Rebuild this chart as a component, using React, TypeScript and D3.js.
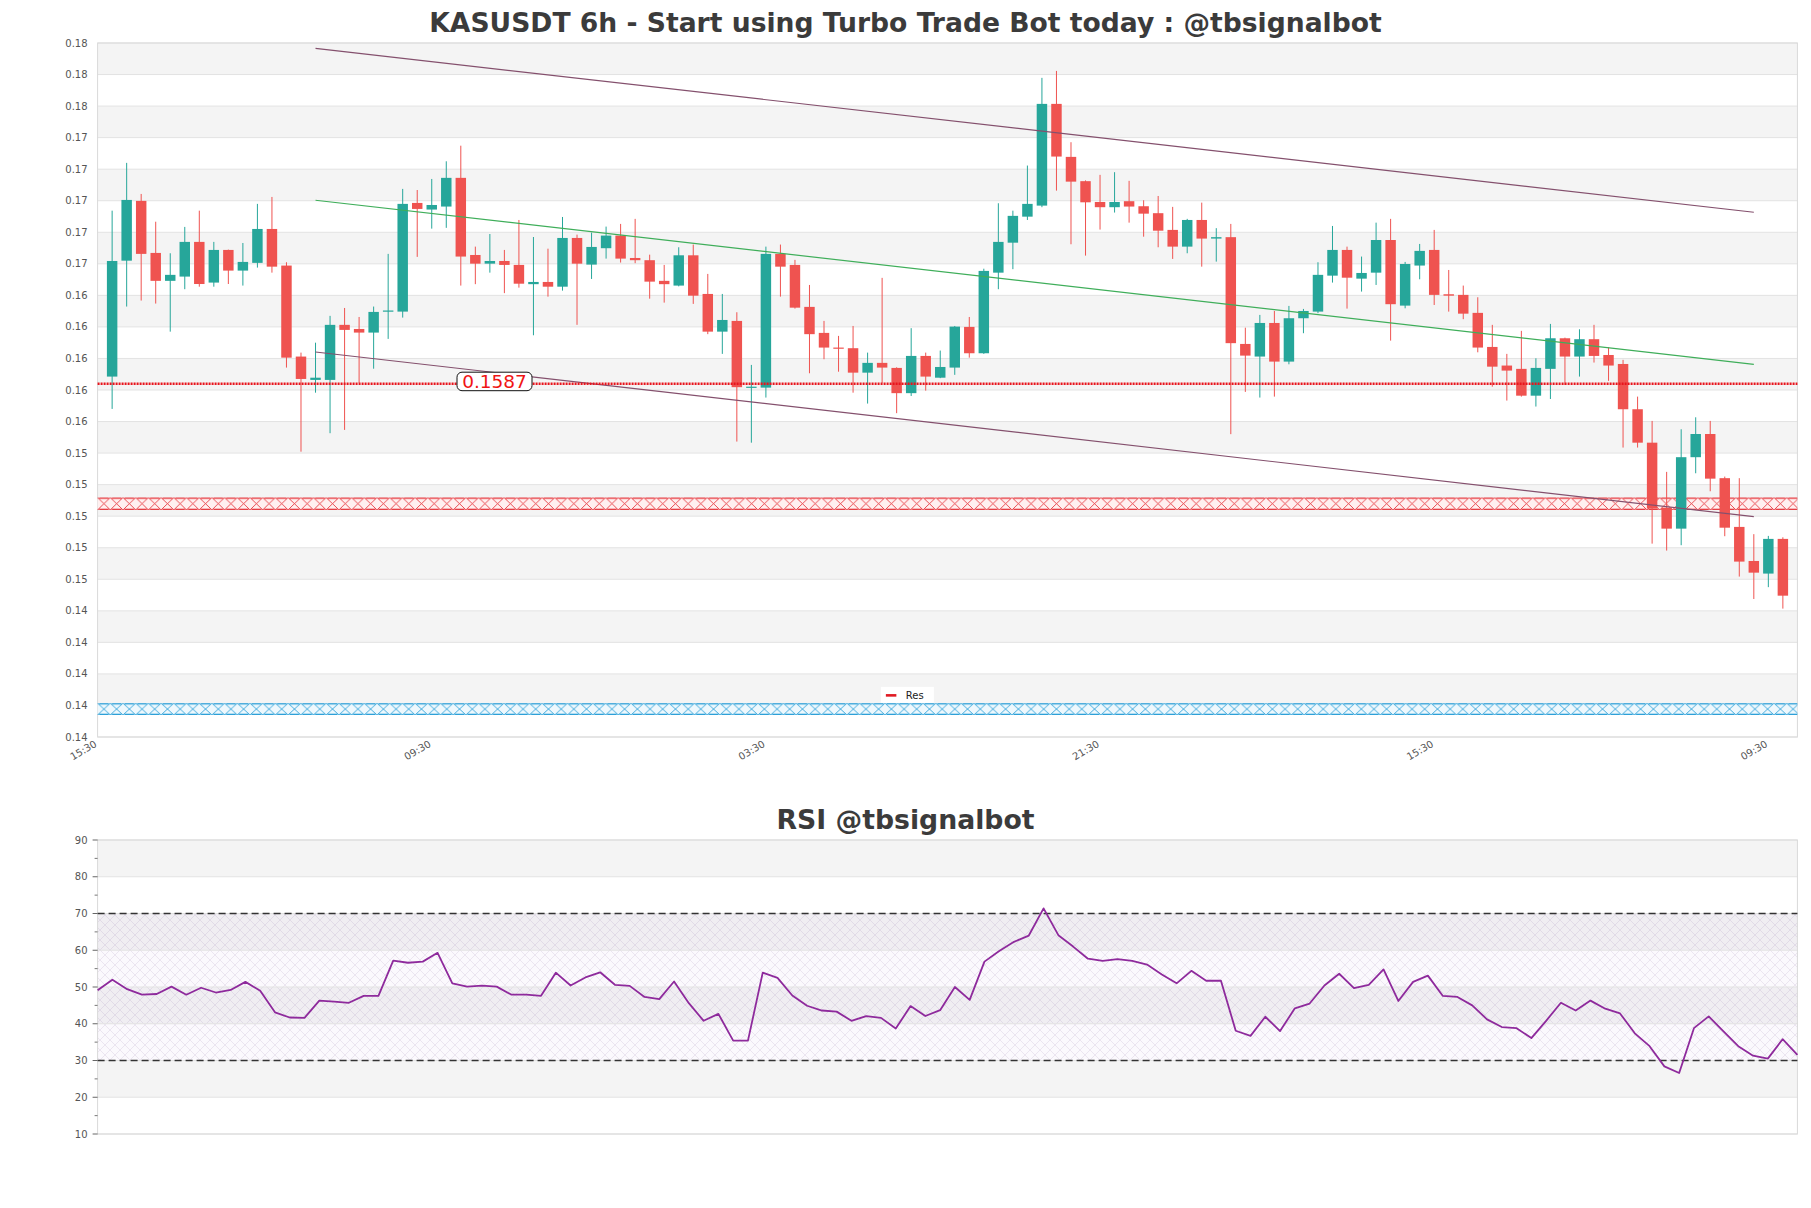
import React from 'react';
import * as d3 from 'd3';

const TITLE = 'KASUSDT 6h - Start using Turbo Trade Bot today : @tbsignalbot';
const RSI_TITLE = 'RSI @tbsignalbot';

const opens = [
  0.15915, 0.16650, 0.17029, 0.16699, 0.16522, 0.16549, 0.16769, 0.16511, 0.16718, 0.16587,
  0.16636, 0.16851, 0.16619, 0.16042, 0.15894, 0.15894, 0.16243, 0.16217, 0.16194, 0.16328,
  0.16327, 0.17016, 0.16974, 0.16993, 0.17175, 0.16686, 0.16631, 0.16648, 0.16623, 0.16501,
  0.16515, 0.16485, 0.16794, 0.16625, 0.16729, 0.16809, 0.16667, 0.16653, 0.16522, 0.16492,
  0.16684, 0.16439, 0.16200, 0.16268, 0.15845, 0.15845, 0.16693, 0.16623, 0.16357, 0.16192,
  0.16099, 0.16095, 0.15940, 0.16002, 0.15970, 0.15810, 0.16046, 0.15908, 0.15972, 0.16230,
  0.16063, 0.16574, 0.16764, 0.16929, 0.16999, 0.17644, 0.17308, 0.17154, 0.17022, 0.16989,
  0.17027, 0.16995, 0.16951, 0.16845, 0.16739, 0.16908, 0.16790, 0.16799, 0.16122, 0.16042,
  0.16255, 0.16010, 0.16285, 0.16327, 0.16555, 0.16718, 0.16536, 0.16574, 0.16781, 0.16365,
  0.16619, 0.16718, 0.16437, 0.16433, 0.16319, 0.16103, 0.15985, 0.15964, 0.15794, 0.15964,
  0.16158, 0.16042, 0.16152, 0.16052, 0.15995, 0.15708, 0.15496, 0.15084, 0.14951, 0.15404,
  0.15551, 0.15271, 0.14962, 0.14746, 0.14666, 0.14886,
];
const highs = [
  0.16967, 0.17270, 0.17073, 0.16897, 0.16697, 0.16864, 0.16967, 0.16769, 0.16720, 0.16762,
  0.17010, 0.17054, 0.16640, 0.16067, 0.16130, 0.16300, 0.16350, 0.16293, 0.16359, 0.16693,
  0.17105, 0.17098, 0.17168, 0.17280, 0.17379, 0.16739, 0.16819, 0.16718, 0.16908, 0.16800,
  0.16726, 0.16927, 0.16815, 0.16828, 0.16866, 0.16883, 0.16915, 0.16688, 0.16623, 0.16735,
  0.16752, 0.16566, 0.16439, 0.16323, 0.15989, 0.16739, 0.16752, 0.16655, 0.16496, 0.16268,
  0.16173, 0.16236, 0.16067, 0.16541, 0.15974, 0.16222, 0.16067, 0.16080, 0.16236, 0.16293,
  0.16599, 0.17014, 0.16967, 0.17253, 0.17809, 0.17853, 0.17401, 0.17159, 0.17194, 0.17211,
  0.17156, 0.17033, 0.17060, 0.16991, 0.16915, 0.17018, 0.16856, 0.16883, 0.16225, 0.16306,
  0.16331, 0.16363, 0.16344, 0.16640, 0.16870, 0.16739, 0.16676, 0.16891, 0.16915, 0.16642,
  0.16756, 0.16845, 0.16591, 0.16492, 0.16418, 0.16243, 0.16059, 0.16205, 0.16031, 0.16249,
  0.16162, 0.16215, 0.16243, 0.16101, 0.16021, 0.15788, 0.15634, 0.15311, 0.15581, 0.15657,
  0.15634, 0.15281, 0.15271, 0.14916, 0.14905, 0.14896,
];
const lows = [
  0.15710, 0.16359, 0.16397, 0.16378, 0.16200, 0.16469, 0.16485, 0.16485, 0.16502, 0.16492,
  0.16606, 0.16574, 0.15972, 0.15439, 0.15813, 0.15556, 0.15577, 0.15875, 0.15965, 0.16154,
  0.16289, 0.16674, 0.16853, 0.16858, 0.16492, 0.16501, 0.16574, 0.16444, 0.16479, 0.16177,
  0.16422, 0.16460, 0.16243, 0.16534, 0.16663, 0.16638, 0.16634, 0.16409, 0.16384, 0.16487,
  0.16376, 0.16184, 0.16059, 0.15503, 0.15496, 0.15782, 0.16422, 0.16346, 0.15936, 0.16025,
  0.15946, 0.15813, 0.15744, 0.15875, 0.15683, 0.15792, 0.15826, 0.15905, 0.15926, 0.16035,
  0.16059, 0.16469, 0.16596, 0.16908, 0.16989, 0.17094, 0.16754, 0.16682, 0.16847, 0.16955,
  0.16891, 0.16802, 0.16735, 0.16661, 0.16697, 0.16612, 0.16644, 0.15550, 0.15818, 0.15782,
  0.15788, 0.15993, 0.16190, 0.16317, 0.16511, 0.16346, 0.16454, 0.16496, 0.16143, 0.16348,
  0.16532, 0.16369, 0.16327, 0.16279, 0.16069, 0.15851, 0.15763, 0.15788, 0.15725, 0.15773,
  0.15862, 0.15915, 0.16004, 0.15888, 0.15465, 0.15465, 0.14856, 0.14812, 0.14846, 0.15302,
  0.15188, 0.14903, 0.14647, 0.14505, 0.14580, 0.14444,
];
const closes = [
  0.16648, 0.17035, 0.16693, 0.16522, 0.16560, 0.16769, 0.16502, 0.16718, 0.16587, 0.16642,
  0.16851, 0.16612, 0.16035, 0.15900, 0.15908, 0.16243, 0.16211, 0.16194, 0.16325, 0.16334,
  0.17010, 0.16978, 0.17003, 0.17175, 0.16676, 0.16631, 0.16648, 0.16623, 0.16504, 0.16515,
  0.16485, 0.16794, 0.16631, 0.16737, 0.16809, 0.16663, 0.16653, 0.16517, 0.16501, 0.16684,
  0.16428, 0.16200, 0.16274, 0.15848, 0.15851, 0.16693, 0.16612, 0.16352, 0.16184, 0.16099,
  0.16092, 0.15940, 0.16002, 0.15972, 0.15810, 0.16046, 0.15915, 0.15976, 0.16232, 0.16063,
  0.16585, 0.16769, 0.16934, 0.17010, 0.17644, 0.17310, 0.17151, 0.17020, 0.16989, 0.17022,
  0.16993, 0.16948, 0.16840, 0.16739, 0.16908, 0.16790, 0.16799, 0.16127, 0.16048, 0.16255,
  0.16010, 0.16285, 0.16331, 0.16560, 0.16718, 0.16542, 0.16572, 0.16781, 0.16374, 0.16629,
  0.16712, 0.16433, 0.16428, 0.16314, 0.16099, 0.15978, 0.15953, 0.15794, 0.15970, 0.16158,
  0.16042, 0.16152, 0.16046, 0.15985, 0.15708, 0.15496, 0.15078, 0.14951, 0.15404, 0.15551,
  0.15268, 0.14957, 0.14742, 0.14672, 0.14886, 0.14526,
];

const rsiValues = [
  49.1, 52.0, 49.4, 47.9, 48.1, 50.1, 47.9, 49.8, 48.5, 49.2,
  51.4, 49.0, 43.1, 41.7, 41.6, 46.3, 46.0, 45.7, 47.6, 47.6,
  57.2, 56.6, 56.9, 59.3, 51.0, 50.1, 50.4, 50.1, 47.9, 47.9,
  47.6, 53.9, 50.4, 52.6, 54.0, 50.6, 50.3, 47.3, 46.7, 51.5,
  45.6, 40.8, 42.7, 35.4, 35.4, 53.9, 52.5, 47.7, 44.9, 43.6,
  43.3, 40.8, 42.1, 41.6, 38.7, 44.8, 42.1, 43.7, 50.0, 46.5,
  56.9, 59.8, 62.3, 64.0, 71.4, 64.1, 61.0, 57.7, 57.1, 57.6,
  57.1, 56.1, 53.4, 51.0, 54.4, 51.7, 51.7, 38.1, 36.7, 41.9,
  38.0, 44.2, 45.5, 50.4, 53.6, 49.7, 50.6, 54.8, 46.2, 51.4,
  53.1, 47.6, 47.3, 45.0, 41.2, 39.1, 38.8, 36.1, 40.8, 45.7,
  43.6, 46.3, 44.1, 42.8, 37.4, 33.9, 28.4, 26.6, 38.8, 42.0,
  37.9, 33.9, 31.3, 30.5, 35.8, 31.5,
];

const xTickIndex = [-1, 22, 45, 68, 91, 114];
const xTickLabels = ['15:30', '09:30', '03:30', '21:30', '15:30', '09:30'];

const priceDomain = [0.1363, 0.1803];
const priceTickCount = 23;
const lastPrice = 0.1587;
const resZone = [0.1507, 0.15148];
const supZone = [0.1377, 0.13844];
const channelIdx = [14, 113];
const upperLine = [0.17996, 0.16957];
const midLine = [0.17033, 0.15993];
const lowerLine = [0.16071, 0.15027];

const rsiDomain = [10, 90];
const rsiMajorTicks = [10, 20, 30, 40, 50, 60, 70, 80, 90];
const rsiMinorTicks = [15, 25, 35, 45, 55, 65, 75, 85];
const rsiLevels = [30, 70];
const legendLabels = ['Res'];

const W = 1811;
const H = 1208;
const FONT = 'DejaVu Sans, Verdana, sans-serif';
const UP = '#26a69a';
const DOWN = '#ef5350';
const BAND = '#f4f4f4';
const GRID = '#e3e3e3';
const BORDER = '#d9d9d9';

const main = { left: 97.6, right: 1797.4, top: 43, bottom: 737 };
const rsiBox = { left: 97.6, right: 1797.4, top: 840, bottom: 1134 };

export default function App() {
  const n = closes.length;
  const x = d3.scaleLinear().domain([-1, n]).range([main.left, main.right]);
  const y = d3.scaleLinear().domain(priceDomain).range([main.bottom, main.top]);
  const step = x(1) - x(0);
  const bodyW = step * 0.72;

  const priceTicks = d3.range(priceTickCount).map(
    (i) => priceDomain[0] + (i * (priceDomain[1] - priceDomain[0])) / (priceTickCount - 1)
  );
  const priceTicksDesc = [...priceTicks].reverse();

  const xr = d3.scaleLinear().domain([0, rsiValues.length - 1]).range([rsiBox.left, rsiBox.right]);
  const yr = d3.scaleLinear().domain(rsiDomain).range([rsiBox.bottom, rsiBox.top]);
  const rsiPath = d3.line<number>().x((_, i) => xr(i)).y((v) => yr(v))(rsiValues) || '';

  const fmt = d3.format('.2f');

  const zone = (z: number[], id: string, color: string, bg: string) => {
    const yTop = y(z[1]);
    const yBot = y(z[0]);
    const h = yBot - yTop;
    const w = 12.7;
    return (
      <g key={id}>
        <defs>
          <pattern id={id} patternUnits="userSpaceOnUse" x={main.left} y={yTop} width={w} height={h}>
            <rect width={w} height={h} fill={bg} />
            <path d={`M0,0 L${w},${h} M${w},0 L0,${h}`} stroke={color} strokeWidth={0.8} fill="none" />
            <path d={`M1.4,0.6 H${w - 1.4} M1.4,${h - 0.6} H${w - 1.4}`} stroke={color} strokeWidth={1.1} fill="none" />
          </pattern>
        </defs>
        <rect x={main.left} y={yTop} width={main.right - main.left} height={h} fill={`url(#${id})`} />
      </g>
    );
  };

  const channel = (vals: number[], color: string, key: string) => (
    <line
      key={key}
      x1={x(channelIdx[0])}
      y1={y(vals[0])}
      x2={x(channelIdx[1])}
      y2={y(vals[1])}
      stroke={color}
      strokeWidth={1.2}
    />
  );

  const labelX = main.left + 0.2335 * (main.right - main.left);
  const lpY = y(lastPrice);

  const legendX = main.left + 0.4608 * (main.right - main.left);
  const legendY = main.top + 0.94 * (main.bottom - main.top);

  return (
    <svg
      width={W}
      height={H}
      viewBox={`0 0 ${W} ${H}`}
      style={{ position: 'absolute', left: 0, top: 0, display: 'block', background: '#fff' }}
      fontFamily={FONT}
    >
      <rect width={W} height={H} fill="#fff" />
      <text x={W / 2} y={32} textAnchor="middle" fontSize={26.6} fontWeight="bold" fill="#3b3b3b">
        {TITLE}
      </text>

      {priceTicksDesc.slice(0, -1).map((t, i) =>
        i % 2 === 0 ? (
          <rect key={'b' + i} x={main.left} y={y(t)} width={main.right - main.left} height={y(priceTicksDesc[i + 1]) - y(t)} fill={BAND} />
        ) : null
      )}
      {priceTicks.map((t, i) => (
        <line key={'g' + i} x1={main.left} x2={main.right} y1={y(t)} y2={y(t)} stroke={GRID} strokeWidth={1} />
      ))}
      <rect x={main.left} y={main.top} width={main.right - main.left} height={main.bottom - main.top} fill="none" stroke={BORDER} strokeWidth={1} />

      {priceTicks.map((t, i) => (
        <text key={'yl' + i} x={main.left - 10} y={y(t) + 3.5} textAnchor="end" fontSize={10} fill="#555">
          {fmt(t)}
        </text>
      ))}
      {xTickIndex.map((idx, i) => (
        <text
          key={'xl' + i}
          x={x(idx)}
          y={main.bottom + 9}
          textAnchor="end"
          fontSize={10}
          fill="#555"
          transform={`rotate(-30 ${x(idx)} ${main.bottom + 9})`}
        >
          {xTickLabels[i]}
        </text>
      ))}

      {zone(resZone, 'resHatch', '#e3242b', '#fff0f0')}
      {zone(supZone, 'supHatch', '#1b98d5', '#eef8fd')}

      {closes.map((c, i) => {
        const o = opens[i];
        const up = c >= o;
        const col = up ? UP : DOWN;
        const cx = x(i);
        const top = y(Math.max(o, c));
        const bot = y(Math.min(o, c));
        return (
          <g key={'c' + i}>
            <line x1={cx} x2={cx} y1={y(highs[i])} y2={y(lows[i])} stroke={col} strokeWidth={1} />
            <rect x={cx - bodyW / 2} y={top} width={bodyW} height={Math.max(bot - top, 1.2)} fill={col} />
          </g>
        );
      })}

      {channel(upperLine, '#84506d', 'up')}
      {channel(midLine, '#3fae5a', 'mid')}
      {channel(lowerLine, '#84506d', 'lo')}

      <line x1={main.left} x2={main.right} y1={lpY} y2={lpY} stroke="#e8141c" strokeWidth={2.6} strokeDasharray="2 1" />
      <rect x={labelX - 37.5} y={lpY - 11.5} width={75} height={18.5} rx={5} ry={5} fill="#fff" stroke="#111" strokeWidth={1} />
      <text x={labelX} y={lpY + 4.5} textAnchor="middle" fontSize={18.5} fill="#f01414">
        {lastPrice.toFixed(4)}
      </text>

      {legendLabels.map((l, i) => (
        <g key={'lg' + i}>
          <rect x={legendX} y={legendY - 8.5} width={53} height={16} fill="#fff" />
          <line x1={legendX + 5} x2={legendX + 15.5} y1={legendY} y2={legendY} stroke="#e01b24" strokeWidth={2.6} />
          <text x={legendX + 25} y={legendY + 3.5} fontSize={10} fill="#222">
            {l}
          </text>
        </g>
      ))}

      <text x={W / 2} y={829} textAnchor="middle" fontSize={26.7} fontWeight="bold" fill="#3b3b3b">
        {RSI_TITLE}
      </text>
      <defs>
        <pattern id="rsiHatch" patternUnits="userSpaceOnUse" width={10} height={10}>
          <path d="M0,0 L10,10 M10,0 L0,10" stroke="rgba(120,90,150,0.16)" strokeWidth={0.8} fill="none" />
        </pattern>
      </defs>
      {rsiMajorTicks.slice(0, -1).map((t, i) => {
        const k = rsiMajorTicks.length - 2 - i;
        return k % 2 === 0 ? (
          <rect key={'rb' + i} x={rsiBox.left} y={yr(t + 10)} width={rsiBox.right - rsiBox.left} height={yr(t) - yr(t + 10)} fill={BAND} />
        ) : null;
      })}
      <rect
        x={rsiBox.left}
        y={yr(rsiLevels[1])}
        width={rsiBox.right - rsiBox.left}
        height={yr(rsiLevels[0]) - yr(rsiLevels[1])}
        fill="rgba(190,160,215,0.06)"
      />
      <rect
        x={rsiBox.left}
        y={yr(rsiLevels[1])}
        width={rsiBox.right - rsiBox.left}
        height={yr(rsiLevels[0]) - yr(rsiLevels[1])}
        fill="url(#rsiHatch)"
      />
      {rsiMajorTicks.map((t) => (
        <line key={'rg' + t} x1={rsiBox.left} x2={rsiBox.right} y1={yr(t)} y2={yr(t)} stroke={GRID} strokeWidth={1} />
      ))}
      <rect x={rsiBox.left} y={rsiBox.top} width={rsiBox.right - rsiBox.left} height={rsiBox.bottom - rsiBox.top} fill="none" stroke={BORDER} strokeWidth={1} />
      {rsiLevels.map((lv) => (
        <line key={'lv' + lv} x1={rsiBox.left} x2={rsiBox.right} y1={yr(lv)} y2={yr(lv)} stroke="#333" strokeWidth={1.3} strokeDasharray="7 4" />
      ))}
      {rsiMajorTicks.map((t) => (
        <g key={'rt' + t}>
          <line x1={rsiBox.left - 5} x2={rsiBox.left} y1={yr(t)} y2={yr(t)} stroke="#666" strokeWidth={1} />
          <text x={rsiBox.left - 10} y={yr(t) + 3.5} textAnchor="end" fontSize={10} fill="#555">
            {t}
          </text>
        </g>
      ))}
      {rsiMinorTicks.map((t) => (
        <line key={'rm' + t} x1={rsiBox.left - 3} x2={rsiBox.left} y1={yr(t)} y2={yr(t)} stroke="#777" strokeWidth={1} />
      ))}
      <path d={rsiPath} fill="none" stroke="#8e2a9c" strokeWidth={1.8} strokeLinejoin="round" />
    </svg>
  );
}
